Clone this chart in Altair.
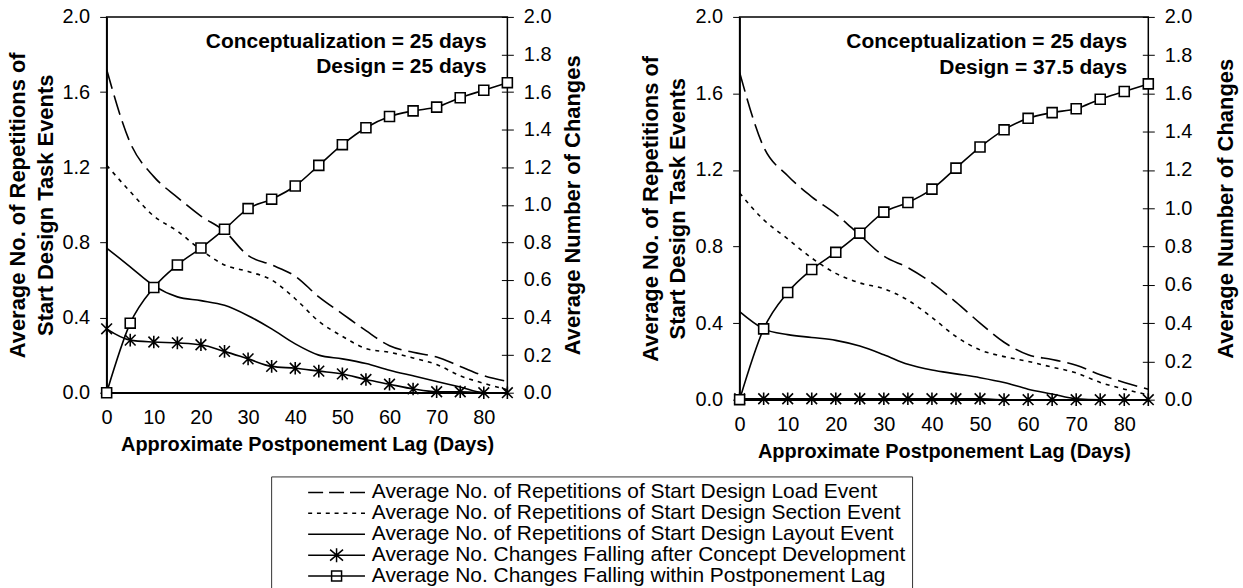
import altair as alt
import pandas as pd

# ---------------- data ----------------
lag = [0, 5, 10, 15, 20, 25, 30, 35, 40, 45, 50, 55, 60, 65, 70, 75, 80, 85]
x_ticks = [0, 10, 20, 30, 40, 50, 60, 70, 80]
y_ticks = [0.0, 0.2, 0.4, 0.6, 0.8, 1.0, 1.2, 1.4, 1.6, 1.8, 2.0]

series_names = [
    "Average No. of Repetitions of Start Design Load Event",
    "Average No. of Repetitions of Start Design Section Event",
    "Average No. of Repetitions of Start Design Layout Event",
    "Average No. Changes Falling after Concept Development",
    "Average No. Changes Falling within Postponement Lag",
]

left_title = ["Average No. of Repetitions of", "Start Design Task Events"]
right_title = "Average Number of Changes"
x_title = "Approximate Postponement Lag (Days)"
concept_label = "Conceptualization = 25 days"
design_labels = ["Design = 25 days", "Design = 37.5 days"]

# left panel (Design = 25 days)
load_a = [1.72, 1.33, 1.15, 1.04, 0.94, 0.86, 0.73, 0.68, 0.62, 0.51, 0.42, 0.33, 0.25, 0.215, 0.19, 0.14, 0.09, 0.06]
section_a = [1.21, 1.07, 0.94, 0.86, 0.76, 0.68, 0.645, 0.60, 0.50, 0.38, 0.30, 0.235, 0.215, 0.185, 0.15, 0.09, 0.05, 0.015]
layout_a = [0.77, 0.67, 0.57, 0.51, 0.49, 0.465, 0.41, 0.34, 0.26, 0.20, 0.18, 0.155, 0.12, 0.09, 0.06, 0.03, 0.0, 0.0]
after_a = [0.34, 0.28, 0.27, 0.265, 0.255, 0.22, 0.18, 0.14, 0.13, 0.115, 0.10, 0.07, 0.045, 0.02, 0.005, 0.005, 0.0, 0.0]
within_a = [0.00, 0.37, 0.56, 0.68, 0.77, 0.87, 0.98, 1.03, 1.10, 1.21, 1.32, 1.41, 1.47, 1.50, 1.52, 1.57, 1.61, 1.65]

# right panel (Design = 37.5 days)
load_b = [1.71, 1.32, 1.17, 1.06, 0.97, 0.86, 0.75, 0.69, 0.61, 0.51, 0.40, 0.30, 0.235, 0.21, 0.18, 0.13, 0.09, 0.055]
section_b = [1.08, 0.94, 0.84, 0.74, 0.66, 0.61, 0.58, 0.52, 0.43, 0.33, 0.26, 0.225, 0.20, 0.17, 0.14, 0.09, 0.055, 0.025]
layout_b = [0.46, 0.37, 0.34, 0.325, 0.31, 0.28, 0.235, 0.185, 0.155, 0.135, 0.115, 0.09, 0.055, 0.03, 0.005, 0.0, 0.0, 0.0]
after_b = [0.005, 0.005, 0.005, 0.005, 0.005, 0.005, 0.005, 0.005, 0.005, 0.005, 0.005, 0.0, 0.0, 0.0, 0.0, 0.0, 0.0, 0.0]
within_b = [0.00, 0.37, 0.56, 0.68, 0.77, 0.87, 0.98, 1.03, 1.10, 1.21, 1.32, 1.41, 1.47, 1.50, 1.52, 1.57, 1.61, 1.65]

# ---------------- style ----------------
FONT = "Liberation Sans"
STAR = "M-0.85,-0.85L0.85,0.85M-0.85,0.85L0.85,-0.85M0,-1V1"

# legend symbols: custom symbol paths in unit coordinates (radius R px)
R = 43.65
BLANK = 30.3


def ux(px):
    return -1 + (BLANK + px) / R


def uy(px):
    return px / R


def hseg(a, b):
    return f"M{ux(a):.3f},0H{ux(b):.3f}"


mc = 28.5
legend_paths = [
    hseg(0, 15) + hseg(21, 36) + hseg(42, 57),
    "".join(hseg(s, s + 4) for s in [0, 8.83, 17.67, 26.5, 35.33, 44.17, 53]),
    hseg(0, 57),
    hseg(0, 57)
    + f"M{ux(mc-6.5):.3f},{uy(-5.5):.3f}L{ux(mc+6.5):.3f},{uy(5.5):.3f}"
    + f"M{ux(mc-6.5):.3f},{uy(5.5):.3f}L{ux(mc+6.5):.3f},{uy(-5.5):.3f}"
    + f"M{ux(mc):.3f},{uy(-7):.3f}V{uy(7):.3f}",
    hseg(0, 57)
    + f"M{ux(mc-5):.3f},{uy(-5):.3f}H{ux(mc+5):.3f}V{uy(5):.3f}H{ux(mc-5):.3f}Z",
]


def panel(vals, design_text, w, h, with_legend, right_title_pad):
    load, section, layout, after, within = vals
    df = pd.DataFrame({"lag": lag, "load": load, "section": section,
                       "layout": layout, "after": after, "within": within})
    base = alt.Chart(df)
    xs = alt.Scale(domain=[0, 85], nice=False, zero=False)
    ys = alt.Scale(domain=[0, 2], nice=False, zero=False)

    x_axis = alt.Axis(values=x_ticks, title=x_title, titleFontSize=20,
                      titleFontWeight="bold", labelFontSize=20, ticks=False,
                      labelPadding=15, titlePadding=7, labelFlush=False,
                      labelOverlap=False)
    X = alt.X("lag:Q", scale=xs, axis=x_axis)

    left_axis = alt.Axis(values=y_ticks, format=".1f", title=left_title,
                         titleFontSize=22, titleFontWeight="bold", titleLineHeight=28,
                         labelFontSize=20, tickSize=7, labelPadding=10,
                         titlePadding=5, labelOverlap=False)
    right_axis = alt.Axis(orient="right", values=y_ticks, format=".1f",
                          title=right_title, titleAngle=270, titleBaseline="top",
                          titleFontSize=22, titleFontWeight="bold", labelFontSize=20,
                          tickSize=12, offset=-6, domain=False, labelPadding=10,
                          titlePadding=right_title_pad, labelOverlap=False)

    def YL(field):
        return alt.Y(f"{field}:Q", scale=ys, axis=left_axis, title=left_title)

    def YR(field):
        return alt.Y(f"{field}:Q", scale=ys, axis=right_axis, title=right_title)

    l_load = base.mark_line(color="black", strokeWidth=1.6, strokeDash=[20, 7],
                            interpolate="monotone").encode(x=X, y=YL("load"))
    l_sec = base.mark_line(color="black", strokeWidth=1.6, strokeDash=[4, 5],
                           interpolate="monotone").encode(x=X, y=YL("section"))
    l_lay = base.mark_line(color="black", strokeWidth=1.6,
                           interpolate="monotone").encode(x=X, y=YL("layout"))

    t1 = alt.Chart(pd.DataFrame({"t": [concept_label]})).mark_text(
        align="right", baseline="alphabetic", font=FONT, fontSize=21,
        fontWeight="bold", color="black").encode(
        x=alt.datum(80.6), y=alt.datum(1.835), text="t:N")
    t2 = alt.Chart(pd.DataFrame({"t": [design_text]})).mark_text(
        align="right", baseline="alphabetic", font=FONT, fontSize=21,
        fontWeight="bold", color="black").encode(
        x=alt.datum(80.6), y=alt.datum(1.70), text="t:N")

    layers_a = [l_load, l_sec, l_lay, t1, t2]

    if with_legend:
        long = pd.DataFrame({
            "lag": lag * 5,
            "value": list(load) + list(section) + list(layout) + list(after) + list(within),
            "series": sum([[n] * len(lag) for n in series_names], []),
        })
        leg = alt.Chart(long).mark_point(opacity=0, filled=False, color="black").encode(
            x=X,
            y=YL("value"),
            shape=alt.Shape("series:N", sort=series_names,
                            scale=alt.Scale(domain=series_names, range=legend_paths),
                            legend=alt.Legend(
                                orient="none", legendX=165, legendY=461, title=None,
                                direction="vertical", columns=1,
                                symbolSize=(2 * R) ** 2, symbolStrokeWidth=1.5,
                                symbolStrokeColor="black", symbolFillColor="transparent",
                                symbolOpacity=1, labelFont=FONT, labelFontSize=21,
                                labelColor="black", labelOffset=6, labelLimit=1000,
                                clipHeight=20, rowPadding=0, padding=6,
                                strokeColor="#333333", fillColor="white")),
        )
        layers_a.append(leg)

    group_a = alt.layer(*layers_a)

    l_after = base.mark_line(color="black", strokeWidth=1.6,
                             interpolate="monotone").encode(x=X, y=YR("after"))
    p_after = base.mark_point(shape=STAR, size=160, filled=False, color="black",
                              strokeWidth=1.6, opacity=1).encode(x=X, y=YR("after"))
    l_within = base.mark_line(color="black", strokeWidth=1.6,
                              interpolate="monotone").encode(x=X, y=YR("within"))
    p_within = base.mark_point(shape="square", size=100, filled=True, fill="white",
                               stroke="black", strokeWidth=1.6, opacity=1).encode(
        x=X, y=YR("within"))
    group_b = alt.layer(l_after, p_after, l_within, p_within)

    return alt.layer(group_a, group_b).resolve_scale(y="independent").properties(
        width=w, height=h)


left = panel((load_a, section_a, layout_a, after_a, within_a), design_labels[0], 402, 377, True, 12)
right = panel((load_b, section_b, layout_b, after_b, within_b), design_labels[1], 410, 384, False, 24)

chart = alt.hconcat(left, right, spacing=53).configure(
    font=FONT, background="white"
).configure_axis(
    labelFont=FONT, titleFont=FONT, labelColor="black", titleColor="black",
    domainColor="black", tickColor="black", domainWidth=1.5, tickWidth=1, grid=False
).configure_view(stroke="black", strokeWidth=1.5)

chart.save("out.html", embed_options={"renderer": "svg", "actions": False})
